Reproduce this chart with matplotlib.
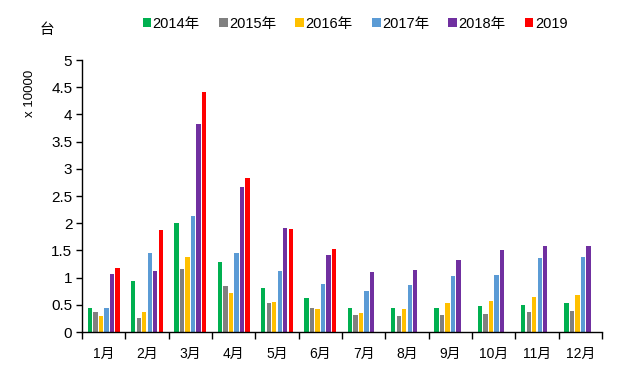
import matplotlib
matplotlib.use("Agg")
import matplotlib.pyplot as plt
import numpy as np
from matplotlib.patches import Patch

plt.rcParams['font.family'] = ['Liberation Sans', 'Noto Sans CJK SC']

months = ['1月', '2月', '3月', '4月', '5月', '6月', '7月', '8月', '9月', '10月', '11月', '12月']
series_names = ['2014年', '2015年', '2016年', '2017年', '2018年', '2019']
colors = ['#00B050', '#808080', '#FFC000', '#5B9BD5', '#7030A0', '#FF0000']

v2014 = [0.45, 0.93, 2.00, 1.28, 0.80, 0.63, 0.44, 0.44, 0.44, 0.48, 0.50, 0.53]
v2015 = [0.36, 0.25, 1.15, 0.84, 0.53, 0.45, 0.31, 0.29, 0.31, 0.33, 0.37, 0.39]
v2016 = [0.29, 0.36, 1.37, 0.71, 0.55, 0.43, 0.35, 0.42, 0.53, 0.57, 0.64, 0.68]
v2017 = [0.45, 1.45, 2.14, 1.45, 1.13, 0.89, 0.75, 0.86, 1.03, 1.05, 1.36, 1.38]
v2018 = [1.06, 1.12, 3.82, 2.66, 1.92, 1.41, 1.10, 1.14, 1.32, 1.51, 1.58, 1.58]
v2019 = [1.17, 1.87, 4.42, 2.84, 1.89, 1.52]

all_series = [v2014, v2015, v2016, v2017, v2018, v2019]

fig = plt.figure(figsize=(6.23, 3.84), dpi=100)
ax = fig.add_axes([82/623, 1 - 332/384, 520/623, 272/384])

slot = 0.127
bw = 0.10
x = np.arange(len(months))
for i, (vals, c) in enumerate(zip(all_series, colors)):
    xs = x[:len(vals)] + (i - 2.5) * slot
    ax.bar(xs, vals, width=bw, color=c, linewidth=0)

ax.set_xlim(-0.5, len(months) - 0.5)
ax.set_ylim(0, 5)
ax.set_yticks(np.arange(0, 5.01, 0.5))
ax.set_yticklabels(['0', '0.5', '1', '1.5', '2', '2.5', '3', '3.5', '4', '4.5', '5'], fontsize=11)
ax.set_xticks(np.arange(-0.5, len(months) + 0.5, 1))
ax.set_xticklabels([])
ax.set_xticks(x, minor=True)
ax.set_xticklabels(months, minor=True, fontsize=10)
ax.tick_params(axis='x', which='major', length=5, direction='out', width=1, color='black')
ax.tick_params(axis='x', which='minor', length=0, pad=11)
ax.tick_params(axis='y', length=4, direction='out', width=1, pad=3)
for s in ['top', 'right']:
    ax.spines[s].set_visible(False)
for s in ['left', 'bottom']:
    ax.spines[s].set_color('black')
    ax.spines[s].set_linewidth(1)

fig.text(30/623, 1 - 93/384, 'x 10000', rotation=90, ha='center', va='center', fontsize=9.5)
fig.text(47/623, 1 - 30/384, '台', ha='center', va='center', fontsize=10.5)

handles = [Patch(facecolor=c, edgecolor='none') for c in colors]
fig.legend(handles, series_names, loc='center', bbox_to_anchor=(355/623, 1 - 24/384), ncol=6,
           frameon=False, fontsize=10.5, handlelength=0.6, handleheight=0.6, handletextpad=0.1,
           columnspacing=1.3, borderpad=0)

fig.savefig('out.png', dpi=100)
